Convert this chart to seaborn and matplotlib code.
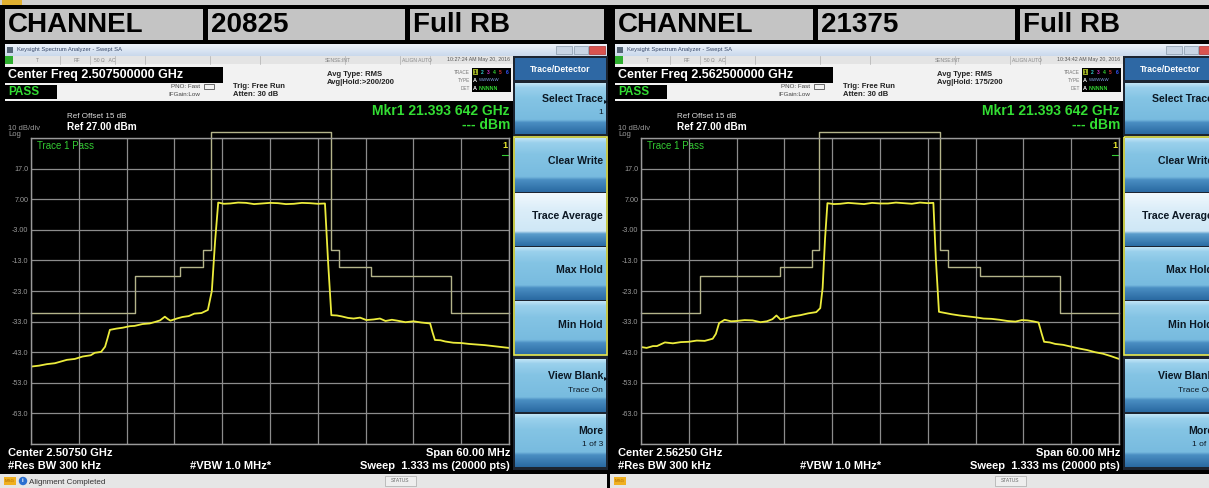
import numpy as np
import matplotlib
matplotlib.use("Agg")
import matplotlib.pyplot as plt
from matplotlib.patches import Rectangle
from matplotlib.colors import LinearSegmentedColormap
import seaborn as sns

canales = ["20825", "21375"]
centro_freq = ["2.507500000 GHz", "2.562500000 GHz"]
centro_corto = ["2.50750 GHz", "2.56250 GHz"]
horas = ["10:27:24 AM May 20, 2016", "10:34:42 AM May 20, 2016"]
avg_hold = ["Avg|Hold:>200/200", "Avg|Hold: 175/200"]
mensajes = ["Alignment Completed", ""]

# traza (MHz respecto al centro, dBm)
freq_20825 = [-30, -29, -28, -27, -25.5, -24.5, -23.5, -22.5, -22, -21.2, -20.7, -20.4, -20.1,
              -19.3, -18.5, -17.6, -17, -16, -15.1, -14.4, -13.8, -13.2, -12.8, -12.5, -11.7,
              -11, -10.2, -9.5, -8.6, -7.8, -7.3, -6.9, -6.5, -5.8, -5, -4, -3, -2, -1, 0,
              1, 2, 3, 4, 5, 6, 6.9, 7.3, 7.7, 8.4, 9, 9.8, 10.5, 11.3, 12.1, 13, 13.8, 14.5,
              15.3, 16, 17, 18, 19, 20.1, 20.4, 20.7, 21.4, 22, 23, 24, 25, 26, 27, 28, 29, 30]
dbm_20825 = [-47.7, -47.4, -46.9, -46.6, -45.5, -45.2, -44.4, -44.0, -43.2, -42.9, -41.2, -38.5, -35.7,
             -35.3, -35.0, -34.5, -34.4, -33.8, -33.6, -33.1, -32.6, -31.4, -32.2, -32.7, -32.0,
             -31.5, -31.2, -30.4, -30.2, -29.2, -23.0, -7.0, 5.9, 5.5, 5.6, 5.9, 5.8, 5.4, 5.6, 5.8,
             5.7, 5.4, 5.5, 5.8, 5.7, 5.5, 5.6, -13.9, -30.9, -31.0, -31.3, -31.8, -32.0, -31.7, -32.5, -32.3,
             -32.0, -32.8, -32.4, -32.7, -33.2, -32.9, -33.3, -33.6, -36.5, -39.0, -39.1, -39.5, -39.9,
             -40.0, -40.3, -40.5, -40.7, -41.0, -41.3, -41.6]

freq_21375 = [-30, -29.3, -28.5, -28, -27, -26, -25, -24, -23, -22, -21, -20.6, -20.2, -19.5,
              -18.7, -18, -17, -16, -15, -14.2, -13.5, -13, -12.5, -11.8, -11, -10, -9, -8,
              -7.5, -7.2, -6.9, -6.6, -5.8, -5, -4, -3, -2, -1, 0, 1, 2, 3, 4, 5, 6, 6.7,
              7.0, 7.4, 8.2, 9, 10, 11, 12, 13, 14, 15, 16, 17, 17.8, 18.5, 19.2, 19.9, 20.3,
              20.6, 21.3, 22, 23, 24, 25, 26, 27, 28, 29, 30]
dbm_21375 = [-41.3, -41.6, -41.0, -41.0, -39.8, -40.1, -39.7, -39.6, -39.2, -39.3, -38.6, -37.0,
             -33.5, -32.4, -32.9, -32.8, -32.5, -32.6, -33.2, -32.9, -32.2, -31.0, -32.3, -31.9,
             -31.3, -30.9, -30.3, -29.9, -28.6, -22.0, -6.0, 5.7, 5.4, 5.5, 5.8, 5.6, 5.4, 5.8,
             5.6, 5.6, 5.9, 5.7, 5.5, 5.9, 5.7, 5.8, -12.0, -29.8, -30.2, -30.6, -31.0, -31.3,
             -31.6, -32.0, -32.1, -32.4, -32.8, -33.0, -32.5, -32.6, -32.9, -33.3, -37.0, -39.6,
             -39.8, -40.3, -40.6, -41.2, -41.8, -42.3, -43.0, -43.5, -44.3, -45.2]

# mascara (limite) escalonada
mask_bordes_20825 = [-30, -16.95, -11.3, -8.4, -7.4, 7.65, 8.66, 12.7, 22.7, 30]
mask_bordes_21375 = [-30, -22.6, -12.5, -8.5, -7.6, 7.5, 8.5, 12.5, 22.6, 30]
mask_niveles = [-30.3, -18.0, -15.1, -9.6, 29.0, -9.6, -15.1, -18.0, -30.3]

y_ticks = [27, 17, 7, -3, -13, -23, -33, -43, -53, -63, -73]
y_etiquetas = ["", "17.0", "7.00", "-3.00", "-13.0", "-23.0", "-33.0", "-43.0", "-53.0", "-63.0", ""]
x_ticks = [-30, -24, -18, -12, -6, 0, 6, 12, 18, 24, 30]

softkeys = [("Select Trace", "1", 82, 134), ("Clear Write", "", 137, 192),
            ("Trace Average", "", 192, 246), ("Max Hold", "", 246, 300),
            ("Min Hold", "", 300, 355), ("View Blank", "Trace On", 358, 412),
            ("More", "1 of 3", 413, 467)]

datos = [(freq_20825, dbm_20825, mask_bordes_20825),
         (freq_21375, dbm_21375, mask_bordes_21375)]

W, H = 1209, 488
FONT = ["Liberation Sans", "DejaVu Sans"]
plt.rcParams["font.family"] = FONT

fig = plt.figure(figsize=(W / 100, H / 100), dpi=100)
fig.patch.set_facecolor("black")
ui = fig.add_axes([0, 0, 1, 1])
ui.set_axis_off()

cm_boton = LinearSegmentedColormap.from_list(
    "boton", [(0, "#c0e4f6"), (0.08, "#9ad0ec"), (0.3, "#84c4e4"), (0.72, "#78bbdf"),
              (0.78, "#4a8ec2"), (1, "#2a6aa2")])
cm_sel = LinearSegmentedColormap.from_list(
    "sel", [(0, "#f0f8fd"), (0.3, "#dceef9"), (0.72, "#cfe7f6"),
            (0.78, "#5a9ccb"), (1, "#2c6ea5")])
cm_titulo = LinearSegmentedColormap.from_list("tit", ["#eef3fa", "#c9d8ec"])


def rect(x0, y0, x1, y1, fc, ec="none", lw=0, z=1):
    ui.add_patch(Rectangle((x0, y0), x1 - x0, y1 - y0, fc=fc, ec=ec, lw=lw, zorder=z))


def texto(x, y, s, size=6, color="black", weight="normal", ha="left", z=5):
    ui.text(x, y, s, fontsize=size, color=color, fontweight=weight, ha=ha,
            va="center", zorder=z, clip_on=True)


def degradado(x0, y0, x1, y1, cmap, z=2):
    g = np.linspace(0, 1, 64).reshape(-1, 1)
    ui.imshow(g, extent=(x0, x1, y1, y0), aspect="auto", cmap=cmap, zorder=z,
              interpolation="bilinear")


# franja superior
rect(0, 0, W, 5, "#cfcfcf")
rect(2, 0, 22, 5, "#e0b030")

for i in range(2):
    ox = i * 610
    # cabecera CHANNEL / canal / Full RB
    for (a, b, s) in [(5, 203, "CHANNEL"), (208, 405, canales[i]), (410, 604, "Full RB")]:
        rect(ox + a, 9, ox + b, 40, "#c4c4c4")
        texto(ox + a + 3, 24.5, s, size=20, weight="bold")

    # barra de titulo de la ventana
    degradado(ox + 5, 44, ox + 607, 56, cm_titulo)
    rect(ox + 7, 47, ox + 13, 53, "#556677", z=3)
    texto(ox + 17, 50, "Keysight Spectrum Analyzer - Swept SA", size=4.2, color="#334466")
    rect(ox + 556, 46, ox + 572, 54, "#c8d4e4", ec="#8899aa", lw=0.5, z=3)
    rect(ox + 574, 46, ox + 588, 54, "#c8d4e4", ec="#8899aa", lw=0.5, z=3)
    rect(ox + 589, 46, ox + 605, 54, "#d9534f", ec="#aa3333", lw=0.5, z=3)

    # fila de estado
    rect(ox + 5, 56, ox + 513, 64, "#e4e4e4")
    rect(ox + 5, 56, ox + 13, 64, "#2fae2f", z=2)
    for xs in [60, 90, 115, 145, 210, 260, 345, 400, 430]:
        ui.plot([ox + xs, ox + xs], [56, 64], color="#b0b0b0", lw=0.5, zorder=3)
    for xs, s in [(37, "T"), (77, "RF"), (105, "50 Ω   AC"), (325, "SENSE:INT"),
                  (402, "ALIGN AUTO")]:
        texto(ox + xs, 60, s, size=3.6, color="#888888", ha="center" if xs < 300 else "left")
    texto(ox + 510, 60, horas[i], size=3.8, color="#555555", ha="right")

    # zona de informacion
    rect(ox + 5, 64, ox + 513, 101, "#f2f2f2")
    rect(ox + 5, 67, ox + 223, 83, "black", z=2)
    texto(ox + 8, 75, "Center Freq " + centro_freq[i], size=9, color="white", weight="bold")
    rect(ox + 5, 85, ox + 57, 99, "black", z=2)
    texto(ox + 8, 92, "PASS", size=8.5, color="#33dd33", weight="bold")
    texto(ox + 200, 87, "PNO: Fast", size=4.5, color="#444444", ha="right")
    texto(ox + 200, 95, "IFGain:Low", size=4.5, color="#444444", ha="right")
    rect(ox + 204, 84, ox + 214, 89, "none", ec="#555555", lw=0.6, z=3)
    texto(ox + 233, 86, "Trig: Free Run", size=5.5, color="#222222", weight="bold")
    texto(ox + 233, 95, "Atten: 30 dB", size=5.5, color="#222222", weight="bold")
    texto(ox + 327, 75, "Avg Type: RMS", size=5.5, color="#222222", weight="bold")
    texto(ox + 327, 83, avg_hold[i], size=5.5, color="#222222", weight="bold")
    for yy, s in [(72, "TRACE"), (80, "TYPE"), (88, "DET")]:
        texto(ox + 470, yy, s, size=3.4, color="#777777", ha="right")
    rect(ox + 472, 68, ox + 511, 92, "black", z=2)
    for k, c in enumerate(["#cccc33", "#33cccc", "#cc33cc", "#33cc33", "#cc3333", "#3355ff"]):
        if k == 0:
            rect(ox + 473, 69, ox + 478, 75, "#99aa22", z=3)
        texto(ox + 475.5 + k * 6.3, 72, str(k + 1), size=3.6, color="black" if k == 0 else c,
              weight="bold", ha="center")
    texto(ox + 473, 80, "A", size=4, color="white", weight="bold")
    texto(ox + 479, 80, "WWWWW", size=3.2, color="#88aaee")
    texto(ox + 473, 88, "A", size=4, color="white", weight="bold")
    texto(ox + 479, 88, "NNNNN", size=3.8, color="#33dd33", weight="bold")

    # pantalla negra
    rect(ox + 5, 101, ox + 513, 473, "black")
    texto(ox + 67, 117, "Ref Offset 15 dB", size=5.8, color="#dddddd")
    texto(ox + 8, 128, "10 dB/div", size=5.5, color="#999999")
    texto(ox + 67, 127, "Ref 27.00 dBm", size=7.3, color="white", weight="bold")
    texto(ox + 8, 135, "Log", size=5.5, color="#999999")
    texto(ox + 510, 111, "Mkr1 21.393 642 GHz", size=10, color="#33dd33", weight="bold", ha="right")
    texto(ox + 510, 125, "--- dBm", size=10, color="#33dd33", weight="bold", ha="right")
    texto(ox + 37, 146, "Trace 1 Pass", size=7, color="#33cc33")
    texto(ox + 505, 145, "1", size=6.5, color="#e8e830", weight="bold", ha="center")
    ui.plot([ox + 502, ox + 508], [155, 155], color="#33cc33", lw=0.8, zorder=6)
    texto(ox + 8, 453, "Center " + centro_corto[i], size=8, color="white", weight="bold")
    texto(ox + 8, 466, "#Res BW 300 kHz", size=8, color="white", weight="bold")
    texto(ox + 190, 466, "#VBW 1.0 MHz*", size=8, color="white", weight="bold")
    texto(ox + 510, 453, "Span 60.00 MHz", size=8, color="white", weight="bold", ha="right")
    texto(ox + 510, 466, "Sweep  1.333 ms (20000 pts)", size=8, color="white", weight="bold", ha="right")

    # barra inferior de mensajes
    rect(ox + 0, 474, ox + 607, 488, "#e6e6e6")
    rect(ox + 4, 477, ox + 16, 485, "#f0b020", z=2)
    texto(ox + 10, 481, "MSG", size=3.2, color="#aa6600", ha="center")
    if mensajes[i]:
        ui.add_patch(plt.Circle((ox + 23, 481), 3.5, color="#2a6fd0", zorder=3))
        texto(ox + 23, 481, "i", size=4.5, color="white", weight="bold", ha="center")
        texto(ox + 29, 482, mensajes[i], size=5.8, color="#333333")
    rect(ox + 385, 476, ox + 416, 486, "#eeeeee", ec="#aaaaaa", lw=0.5, z=2)
    texto(ox + 400.5, 481, "STATUS", size=3.5, color="#666666", ha="center")

    # panel de softkeys
    rect(ox + 513, 56, ox + 608, 470, "#1c2430")
    rect(ox + 515, 58, ox + 606, 80, "#2e68a4", z=2)
    texto(ox + 560, 69, "Trace/Detector", size=6.2, color="white", weight="bold", ha="center")
    for nombre, sub, y0, y1 in softkeys:
        degradado(ox + 515, y0 + 1, ox + 606, y1, cm_sel if nombre == "Trace Average" else cm_boton)
        yc = (y0 + y1) / 2 - 3
        if sub:
            texto(ox + 603, yc - 6, nombre, size=7.6, color="#0c1824", weight="bold", ha="right")
            texto(ox + 603, yc + 8, sub, size=6, color="#0c1824", ha="right")
        else:
            texto(ox + 603, yc, nombre, size=7.6, color="#0c1824", weight="bold", ha="right")
        if nombre in ("Select Trace", "View Blank"):
            texto(ox + 606, yc - 3, "▸", size=6, color="#0c1824", ha="center")
    rect(ox + 514, 137, ox + 607, 355, "none", ec="#e8e850", lw=1.2, z=4)

    # grafico del espectro
    frec, dbm, bordes = datos[i]
    ax = fig.add_axes([(ox + 31) / W, (H - 444) / H, 478 / W, 306 / H])
    ax.set_facecolor("black")
    ax.set_zorder(3)
    ax.patch.set_alpha(0)
    sns.lineplot(x=bordes, y=mask_niveles + [mask_niveles[-1]], ax=ax, color="#b4b48a",
                 lw=1.0, drawstyle="steps-post", estimator=None, clip_on=False)
    sns.lineplot(x=frec, y=dbm, ax=ax, color="#ecec3c", lw=1.3, estimator=None)
    ax.set_xlim(-30, 30)
    ax.set_ylim(-73, 27)
    ax.set_xticks(x_ticks)
    ax.set_yticks(y_ticks)
    ax.set_yticklabels(y_etiquetas)
    ax.set_xticklabels([])
    ax.tick_params(length=0, colors="#9a9a9a", labelsize=5.2, pad=2)
    ax.grid(True, color="#8c8c8c", lw=0.9)
    ax.set_axisbelow(True)
    for sp in ax.spines.values():
        sp.set_color("#9a9a9a")
        sp.set_linewidth(1.0)
    ax.set_xlabel("")
    ax.set_ylabel("")

ui.set_xlim(0, W)
ui.set_ylim(H, 0)
fig.savefig("out.png", dpi=100, facecolor="black")
